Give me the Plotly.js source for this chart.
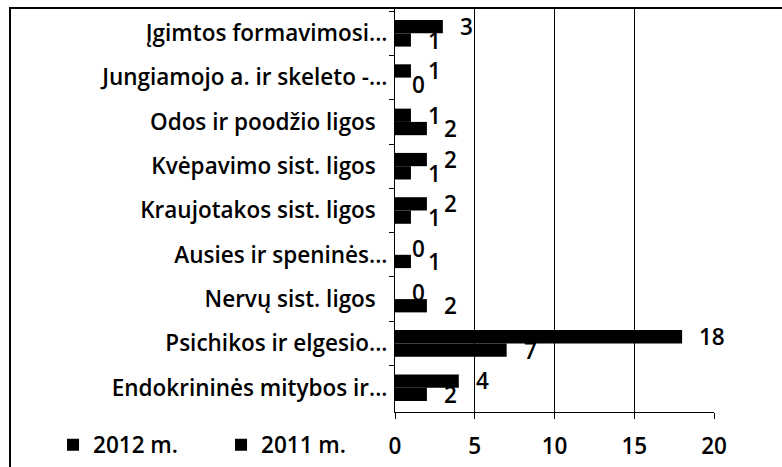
<!DOCTYPE html>
<html>
<head>
<meta charset="utf-8">
<script src="https://cdn.plot.ly/plotly-3.0.1.min.js"></script>
<style>
html,body{margin:0;padding:0;background:#fff;overflow:hidden;}
#chart{width:782px;height:467px;}
#frame{position:absolute;left:9px;top:7px;width:800px;height:500px;border-left:2px solid #000;border-top:2px solid #000;pointer-events:none;}
</style>
</head>
<body>
<div id="chart"></div>
<div id="frame"></div>
<script>
var categories = [
  "Įgimtos formavimosi...",
  "Jungiamojo a. ir skeleto -...",
  "Odos ir poodžio ligos\u00A0\u00A0",
  "Kvėpavimo sist. ligos\u00A0\u00A0",
  "Kraujotakos sist. ligos\u00A0\u00A0",
  "Ausies ir speninės...",
  "Nervų sist. ligos\u00A0\u00A0",
  "Psichikos ir elgesio...",
  "Endokrininės mitybos ir..."
];
var series2012 = [3, 1, 1, 2, 2, 0, 0, 18, 4];
var series2011 = [1, 0, 2, 1, 1, 1, 2, 7, 2];
var seriesNames = ["2012 m.", "2011 m."];
var xTicks = [0, 5, 10, 15, 20];

var fontFam = "'Open Sans', sans-serif";
var F = {family: fontFam, size: 22.5, color: "#000", weight: 600};
function mk(vals, name) {
  return {
    type: "bar", orientation: "h",
    x: vals, y: categories, name: name,
    marker: {color: "#000"},
    cliponaxis: false
  };
}
var data = [mk(series2012, seriesNames[0]), mk(series2011, seriesNames[1])];

// value labels, placed through the axes from the same arrays
var annotations = [];
function addLabels(vals, shiftY) {
  vals.forEach(function (v, i) {
    annotations.push({
      x: v, y: categories[i], xref: "x", yref: "y",
      text: String(v), showarrow: false,
      xanchor: "left", yanchor: "middle",
      xshift: 15, yshift: shiftY, font: F
    });
  });
}
addLabels(series2012, 6.8);
addLabels(series2011, -6.8);

var layout = {
  width: 782, height: 467,
  margin: {l: 395, r: 68, t: 9, b: 55, autoexpand: false},
  paper_bgcolor: "#fff", plot_bgcolor: "#fff",
  font: F,
  barmode: "group", bargap: 0.4, bargroupgap: 0,
  showlegend: true,
  annotations: annotations,
  legend: {orientation: "h", x: -1.072, xanchor: "left", y: -0.082, yanchor: "middle",
           bgcolor: "rgba(0,0,0,0)",
           font: F, itemwidth: 30, entrywidth: 123, tracegroupgap: 0},
  xaxis: {range: [0, 20], tickvals: xTicks, ticktext: xTicks.map(String),
          automargin: false,
          showgrid: true, gridcolor: "#000", gridwidth: 1,
          showline: true, linecolor: "#000", linewidth: 1,
          ticks: "outside", ticklen: 6, tickcolor: "#000",
          zeroline: false, ticklabelstandoff: 8,
          tickfont: F},
  yaxis: {type: "category", autorange: "reversed", automargin: false,
          showline: true, linecolor: "#000", linewidth: 1,
          ticks: "outside", tickson: "boundaries", ticklen: 5, tickcolor: "#000",
          showgrid: false, ticklabelstandoff: 2,
          tickfont: F}
};
Plotly.newPlot("chart", data, layout, {staticPlot: true, displayModeBar: false});
</script>
</body>
</html>
